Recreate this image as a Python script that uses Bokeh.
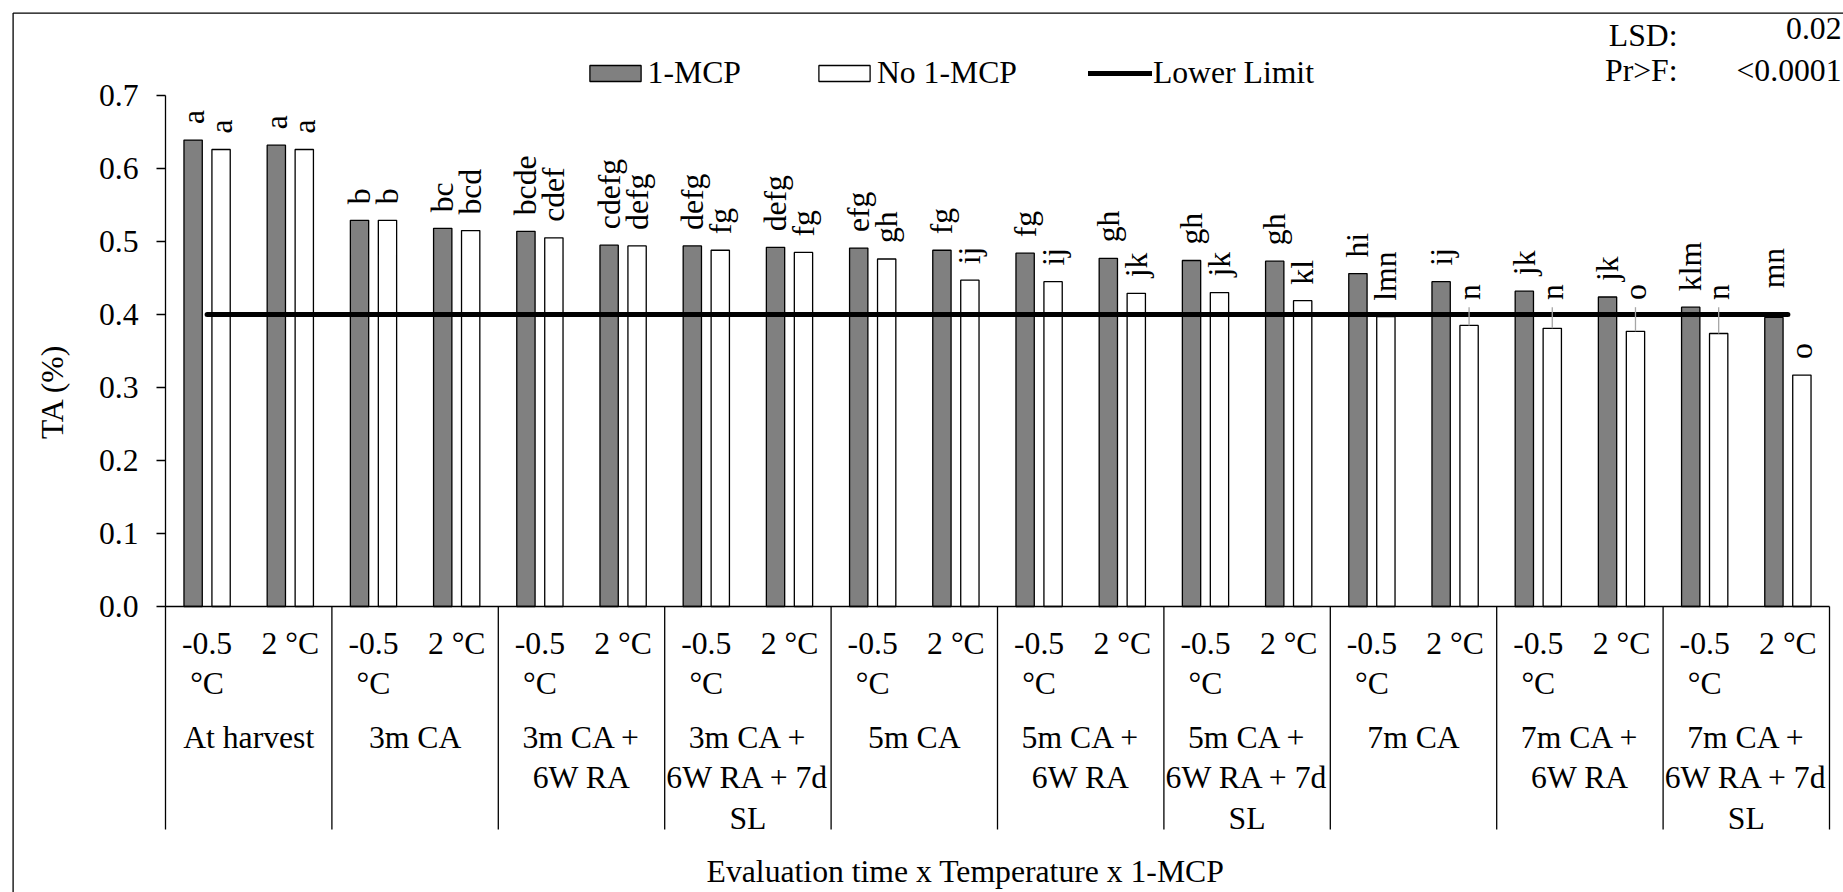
import numpy as np
from bokeh.plotting import figure
from bokeh.models import (Range1d, FixedTicker, PrintfTickFormatter, Legend,
                          LegendItem, ColumnDataSource)
from bokeh.core.properties import value
from bokeh.embed import file_html
from bokeh.resources import INLINE

# ---------------- data ----------------
groups = ["At harvest", "3m CA", "3m CA +\n6W RA", "3m CA +\n6W RA + 7d\nSL",
          "5m CA", "5m CA +\n6W RA", "5m CA +\n6W RA + 7d\nSL", "7m CA",
          "7m CA +\n6W RA", "7m CA +\n6W RA + 7d\nSL"]
temps = ["-0.5\n°C", "2 °C"]
mcp = [0.639, 0.632, 0.529, 0.518, 0.514, 0.495, 0.494, 0.492, 0.491, 0.488,
       0.484, 0.477, 0.474, 0.473, 0.456, 0.445, 0.432, 0.424, 0.410, 0.396]
no_mcp = [0.626, 0.626, 0.529, 0.515, 0.505, 0.494, 0.488, 0.485, 0.476, 0.447,
          0.445, 0.429, 0.430, 0.419, 0.397, 0.385, 0.381, 0.377, 0.374, 0.317]
mcp_letters = ["a", "a", "b", "bc", "bcde", "cdefg", "defg", "defg", "efg", "fg",
               "fg", "gh", "gh", "gh", "hi", "ij", "jk", "jk", "klm", "mn"]
no_letters = ["a", "a", "b", "bcd", "cdef", "defg", "fg", "fg", "gh", "ij",
              "ij", "jk", "jk", "kl", "lmn", "n", "n", "o", "n", "o"]
lower_limit = [0.4] * 20
y_ticks = [0.0, 0.1, 0.2, 0.3, 0.4, 0.5, 0.6, 0.7]
stats_names = ["LSD:", "Pr>F:"]
stats_values = ["0.02", "<0.0001"]
series_names = ["1-MCP", "No 1-MCP", "Lower Limit"]
x_title = "Evaluation time x Temperature x 1-MCP"
y_title = "TA (%)"

# ---------------- layout constants ----------------
W, H = 1843, 892
FRAME_LEFT = 5            # px where the drawing frame starts
AXIS_PX = 165             # px of y axis (x = 0)
ZERO_PX = 606             # px of y = 0
PX_PER_Y = 730.0          # px per 1.0 of TA
PX_PER_CAT = 83.2         # px per category
FONT = "Liberation Serif"
FS = "31.7px"
BORDER = 12.6             # px of the outer chart border

def px_x(px):
    return (px - AXIS_PX) / PX_PER_CAT

def px_y(py):
    return (ZERO_PX - py) / PX_PER_Y

n = len(mcp)
xc = np.arange(n) + 0.5
off = 0.168
bw = 0.22
gx = xc - off
wx = xc + off

p = figure(width=W, height=H, output_backend="svg", toolbar_location=None,
           x_range=Range1d(px_x(FRAME_LEFT), px_x(W)),
           y_range=Range1d(px_y(H), px_y(0)),
           x_axis_location=None, y_axis_location="left",
           min_border=0, min_border_left=FRAME_LEFT)
p.grid.visible = False
p.outline_line_color = None
p.background_fill_color = "white"
p.border_fill_color = "white"

# outer chart border (left/top visible; right/bottom run off the page)
p.segment(x0=[px_x(BORDER), px_x(BORDER)], y0=[px_y(BORDER), px_y(BORDER)],
          x1=[px_x(W + 20), px_x(BORDER)], y1=[px_y(BORDER), px_y(H + 20)],
          line_color="black", line_width=1.3)

# y axis, drawn at x = 0
ax = p.yaxis[0]
ax.fixed_location = 0
ax.bounds = (0, 0.7)
ax.ticker = FixedTicker(ticks=y_ticks)
ax.formatter = PrintfTickFormatter(format="%.1f")
ax.major_tick_out = 9
ax.major_tick_in = 0
ax.minor_tick_line_color = None
ax.axis_line_width = 1.3
ax.major_tick_line_width = 1.3
ax.major_label_standoff = 18
ax.major_label_text_font = FONT
ax.major_label_text_font_size = FS
ax.major_label_text_color = "black"

# y axis title
p.text(x=[px_x(52)], y=[px_y(391)], text=[y_title], angle=np.pi / 2,
       text_align="center", text_baseline="middle",
       text_font=value(FONT), text_font_size=FS, text_color="black")

# bars
gsrc = ColumnDataSource(dict(x=gx, top=mcp))
wsrc = ColumnDataSource(dict(x=wx, top=no_mcp))
gr = p.vbar(x="x", top="top", bottom=0, width=bw, source=gsrc,
            fill_color="#808080", line_color="black", line_width=1.3)
wr = p.vbar(x="x", top="top", bottom=0, width=bw, source=wsrc,
            fill_color="white", line_color="black", line_width=1.3)

# x axis base line and group separators
p.segment(x0=[0], y0=[0], x1=[n], y1=[0], line_color="black", line_width=1.3)
sep_x = np.arange(0, n + 1, 2)
SEP_BOTTOM = px_y(829)
p.segment(x0=sep_x, y0=0, x1=sep_x, y1=SEP_BOTTOM, line_color="black", line_width=1.3)

# lower limit line
lr = p.line(x=xc, y=lower_limit, line_color="black", line_width=5, line_cap="round")

# letters above bars
moved_no = {15: 0.398, 16: 0.398, 17: 0.398, 18: 0.398}
moved_mcp = {19: 0.414}
g_anchor = [moved_mcp.get(i, v) for i, v in enumerate(mcp)]
w_anchor = [moved_no.get(i, v) for i, v in enumerate(no_mcp)]
for xs, ys, txt in ((gx, g_anchor, mcp_letters), (wx, w_anchor, no_letters)):
    p.text(x=xs, y=ys, text=txt, angle=np.pi / 2, y_offset=-16,
           text_align="left", text_baseline="middle",
           text_font=value(FONT), text_font_size=FS, text_color="black")

# leader lines for moved labels
lead_idx = sorted(moved_no)
p.segment(x0=[wx[i] for i in lead_idx], y0=0.41,
          x1=[wx[i] for i in lead_idx], y1=[no_mcp[i] for i in lead_idx],
          line_color="#A6A6A6", line_width=1.3)

# category labels
p.text(x=xc, y=0, text=temps * len(groups), y_offset=19,
       text_align="center", text_baseline="top", text_line_height=1.17,
       text_font=value(FONT), text_font_size=FS, text_color="black")
p.text(x=np.arange(len(groups)) * 2 + 1, y=0, text=groups, y_offset=113,
       text_align="center", text_baseline="top", text_line_height=1.17,
       text_font=value(FONT), text_font_size=FS, text_color="black")

# x axis title
p.text(x=[px_x(965)], y=[px_y(853)], text=[x_title], text_align="center",
       text_baseline="top", text_font=value(FONT), text_font_size=FS,
       text_color="black")

# stats block
p.text(x=[px_x(1677)] * 2, y=[px_y(17.7), px_y(52.7)], text=stats_names,
       text_align="right", text_baseline="top",
       text_font=value(FONT), text_font_size=FS, text_color="black")
p.text(x=[px_x(1841)] * 2, y=[px_y(17.7), px_y(52.7)], text=stats_values,
       text_align="right", text_baseline="top",
       text_font=value(FONT), text_font_size=FS, text_color="black")

# legend
legend = Legend(items=[LegendItem(label=series_names[0], renderers=[gr]),
                       LegendItem(label=series_names[1], renderers=[wr]),
                       LegendItem(label=series_names[2], renderers=[lr])],
                orientation="horizontal", location=(582.6 - FRAME_LEFT, H - 91),
                glyph_width=64, glyph_height=20, label_standoff=1, spacing=71,
                padding=0, margin=0, border_line_color=None,
                background_fill_alpha=0,
                label_text_font=FONT, label_text_font_size=FS,
                label_text_color="black")
p.add_layout(legend)

open("out.html", "w").write(file_html(p, INLINE))
